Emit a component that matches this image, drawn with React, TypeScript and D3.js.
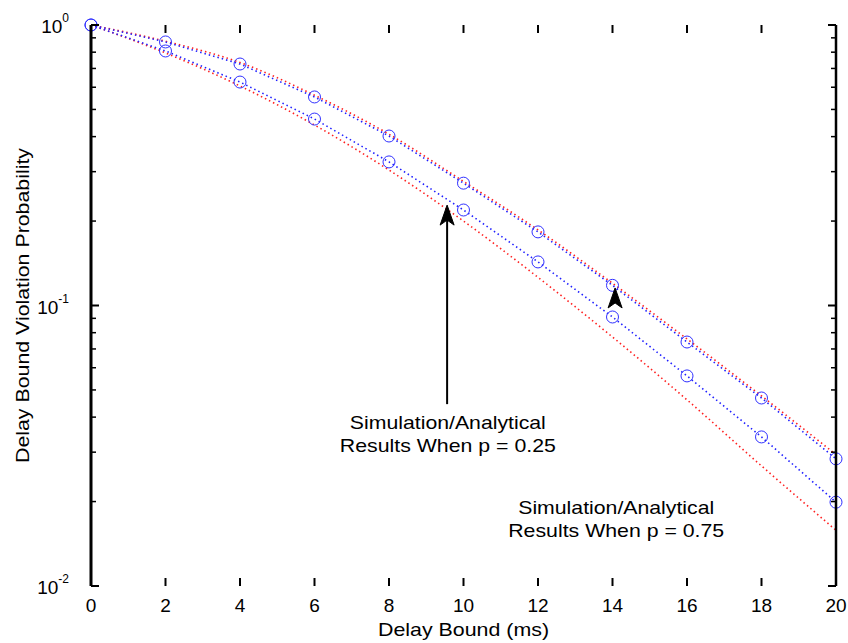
import React from "react";
import * as d3 from "d3";

// delay bound (ms)
const delays = [0, 2, 4, 6, 8, 10, 12, 14, 16, 18, 20];
// simulation results (blue, circles)
const simUpper = [1.0, 0.87, 0.726, 0.554, 0.402, 0.273, 0.183, 0.118, 0.0741, 0.0468, 0.0284];
const simLower = [1.0, 0.808, 0.626, 0.462, 0.325, 0.219, 0.143, 0.091, 0.0561, 0.034, 0.0199];
// analytical results (red)
const anaUpper = [1.0, 0.875, 0.735, 0.562, 0.408, 0.277, 0.186, 0.12, 0.076, 0.0476, 0.0294];
const anaLower = [1.0, 0.795, 0.606, 0.44, 0.304, 0.2, 0.126, 0.0772, 0.0461, 0.0268, 0.0158];

const xTicks = [0, 2, 4, 6, 8, 10, 12, 14, 16, 18, 20];
const yMajor = [1, 0.1, 0.01];
const yExp = ["0", "-1", "-2"];

// annotations: arrow (x, tail y -> tip y) and two text lines under the tail
const notes = [
  { x: 9.56, tail: 0.0445, tip: 0.228, lines: ["Simulation/Analytical", "Results When p = 0.25"], tx: 9.58, ty: 0.043 },
  { x: 14.07, tail: 0.102, tip: 0.1155, lines: [], tx: 0, ty: 0 },
  { x: 0, tail: 0, tip: 0, lines: ["Simulation/Analytical", "Results When p = 0.75"], tx: 14.1, ty: 0.0215 },
];

export default function App() {
  const margin = { top: 25, right: 12, bottom: 57, left: 91 };
  const W = 848;
  const H = 643;
  const x = d3.scaleLinear().domain([0, 20]).range([margin.left, W - margin.right]);
  const y = d3.scaleLog().domain([0.01, 1]).range([H - margin.bottom, margin.top]);

  const minor: number[] = [];
  [0.01, 0.1].forEach((d) => {
    for (let k = 2; k <= 9; k++) minor.push(d * k);
  });

  const curve = d3
    .line<number>()
    .x((_, i) => x(delays[i]))
    .y((v) => y(v))
    .curve(d3.curveMonotoneX);
  const straight = d3
    .line<number>()
    .x((_, i) => x(delays[i]))
    .y((v) => y(v));

  const font = "Arial, 'Liberation Sans', sans-serif";
  const x0 = x(0);
  const x1 = x(20);
  const yTop = y(1);
  const yBot = y(0.01);

  const arrowHead = (px: number, py: number) =>
    `M${px},${py} L${px - 7},${py + 20} L${px},${py + 15} L${px + 7},${py + 20} Z`;

  return (
    <div style={{ position: "fixed", left: 0, top: 0 }}>
      <svg width={W} height={H} style={{ display: "block", background: "#fff" }}>
        {/* analytical curves */}
        {[anaUpper, anaLower].map((s, i) => (
          <path key={"a" + i} d={curve(s) || ""} fill="none" stroke="#ff2020" strokeWidth={1.6} strokeDasharray="1.5,3" />
        ))}
        {/* simulation curves */}
        {[simUpper, simLower].map((s, i) => (
          <g key={"s" + i}>
            <path d={straight(s) || ""} fill="none" stroke="#2020ff" strokeWidth={1.6} strokeDasharray="1.5,3" />
            {s.map((v, j) => (
              <circle key={j} cx={x(delays[j])} cy={y(v)} r={6} fill="none" stroke="#3030ff" strokeWidth={1} />
            ))}
          </g>
        ))}

        {/* axes */}
        <line x1={x0} x2={x0} y1={yTop} y2={yBot} stroke="#000" strokeWidth={3} />
        <line x1={x1} x2={x1} y1={yTop} y2={yBot} stroke="#000" strokeWidth={2.5} />
        {xTicks.map((t) => (
          <g key={"xt" + t}>
            <line x1={x(t)} x2={x(t)} y1={yTop} y2={yTop + 8} stroke="#000" strokeWidth={2} />
            <line x1={x(t)} x2={x(t)} y1={yBot} y2={yBot - 8} stroke="#000" strokeWidth={2} />
            <text x={x(t)} y={yBot + 26} textAnchor="middle" fontFamily={font} fontSize={19} fill="#000">
              {t}
            </text>
          </g>
        ))}
        {minor.map((t) => (
          <g key={"ym" + t}>
            <line x1={x0} x2={x0 + 5} y1={y(t)} y2={y(t)} stroke="#000" strokeWidth={1.5} />
            <line x1={x1} x2={x1 - 5} y1={y(t)} y2={y(t)} stroke="#000" strokeWidth={1.5} />
          </g>
        ))}
        {yMajor.map((t, i) => (
          <g key={"yM" + t}>
            <line x1={x0} x2={x0 + 8} y1={y(t)} y2={y(t)} stroke="#000" strokeWidth={2} />
            <line x1={x1} x2={x1 - 8} y1={y(t)} y2={y(t)} stroke="#000" strokeWidth={2} />
            <text x={x0 - 22} y={y(t) + 8} textAnchor="end" fontFamily={font} fontSize={19} fill="#000">
              10
              <tspan dy={-11} fontSize={12}>
                {yExp[i]}
              </tspan>
            </text>
          </g>
        ))}

        {/* axis labels */}
        <text x={(x0 + x1) / 2} y={H - 7} textAnchor="middle" fontFamily={font} fontSize={19} textLength={171} lengthAdjust="spacingAndGlyphs">
          Delay Bound (ms)
        </text>
        <text
          transform={`translate(29,${(yTop + yBot) / 2}) rotate(-90)`}
          textAnchor="middle"
          fontFamily={font}
          fontSize={19}
          textLength={315}
          lengthAdjust="spacingAndGlyphs"
        >
          Delay Bound Violation Probability
        </text>

        {/* annotations */}
        {notes.map((n, i) => (
          <g key={"n" + i}>
            {n.tip > 0 && (
              <>
                <line x1={x(n.x)} x2={x(n.x)} y1={y(n.tail)} y2={y(n.tip) + 14} stroke="#000" strokeWidth={2} />
                <path d={arrowHead(x(n.x), y(n.tip))} fill="#000" stroke="#000" strokeWidth={1} />
              </>
            )}
            {n.lines.map((l, k) => (
              <text
                key={k}
                x={x(n.tx)}
                y={y(n.ty) + 21 + k * 23}
                textAnchor="middle"
                fontFamily={font}
                fontSize={19}
                textLength={k === 0 ? 196 : 216}
                lengthAdjust="spacingAndGlyphs"
              >
                {l}
              </text>
            ))}
          </g>
        ))}
      </svg>
    </div>
  );
}
